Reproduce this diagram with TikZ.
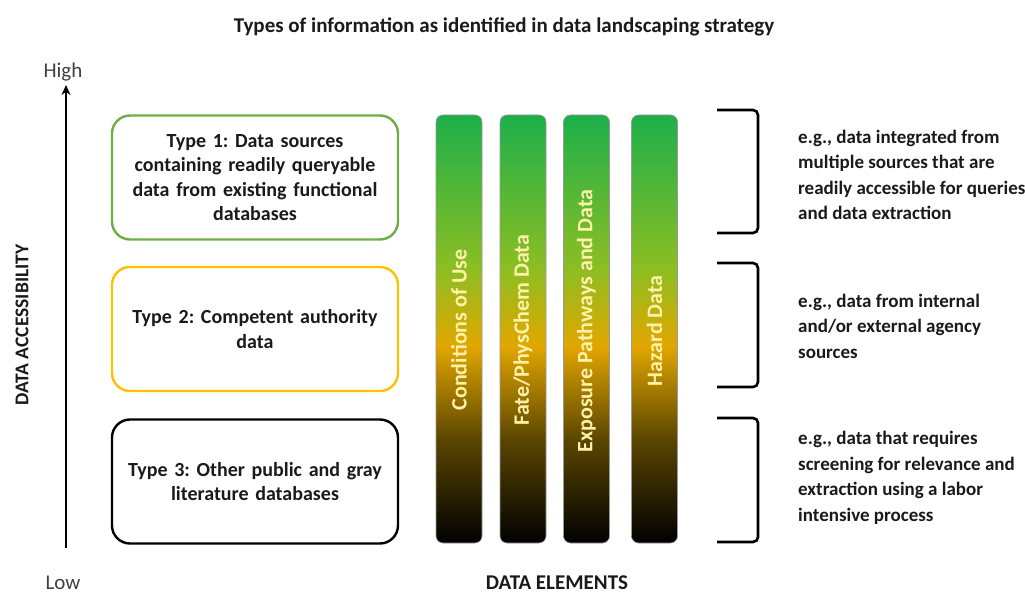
\documentclass[tikz,border=0pt]{standalone}
\usepackage{fontspec}
\setmainfont{Carlito}
\usetikzlibrary{arrows.meta}

\definecolor{typegreen}{HTML}{70AD47}
\definecolor{typegold}{HTML}{FFC000}
\definecolor{inkgray}{HTML}{1A1A1A}
\definecolor{barlabel}{HTML}{FFF2A8}
\definecolor{bartop}{HTML}{1CB04A}
\definecolor{barlime}{HTML}{8DBE22}
\definecolor{barmid}{HTML}{E2A600}
\definecolor{barolive}{HTML}{5A4500}

\pgfdeclareverticalshading{elementshade}{100bp}{color(0bp)=(black); color(25bp)=(black);
  color(37bp)=(barolive); color(48bp)=(barmid); color(57bp)=(barlime);
  color(75bp)=(bartop); color(100bp)=(bartop)}

\tikzstyle{typebox} = [draw, line width=2.4pt, rectangle, rounded corners=18pt,
  minimum width=286pt, minimum height=124pt, text width=270pt, align=center,
  font=\fontsize{20}{24.5}\selectfont\bfseries, text=inkgray]
\tikzstyle{element} = [rectangle, rounded corners=7pt, draw=black!40, line width=0.6pt,
  shading=elementshade, minimum width=46pt, minimum height=428pt, inner sep=0pt]
\tikzstyle{elementlabel} = [rotate=90, text=barlabel,
  font=\fontsize{22}{26}\selectfont\bfseries]
\tikzstyle{example} = [anchor=west, align=left, inner sep=0pt, text=inkgray,
  font=\fontsize{19}{25.5}\selectfont\bfseries]
\tikzstyle{heading} = [text=inkgray, font=\fontsize{21}{25}\selectfont\bfseries]
\tikzstyle{bracket} = [line width=2.6pt, rounded corners=5pt]

\begin{document}
\frenchspacing
\begin{tikzpicture}[x=1pt, y=-1pt]
        \useasboundingbox (0,0) rectangle (1025,596);

        \node [heading] (title) at (504, 27) {Types of information as identified in data landscaping strategy};

        % accessibility axis
        \node [text=black!75, font=\fontsize{21}{25}\selectfont] (high) at (63, 72) {High};
        \node [text=black!75, font=\fontsize{21}{25}\selectfont, inner sep=1pt] (low) at (63, 583) {Low};
        \coordinate (axislow)  at (66, 548);
        \coordinate (axishigh) at (66, 85);
        \draw [line width=2.6pt, -{Stealth[length=10pt, width=9pt]}] (axislow) -- (axishigh);
        \node [heading, font=\fontsize{19.5}{23}\selectfont\bfseries, rotate=90] (access) at (22, 325) {DATA ACCESSIBILITY};

        % information types
        \node [typebox, draw=typegreen] (type1) at (255, 177.5)
          {Type 1: Data sources\\ containing readily queryable\\ data from existing functional\\ databases};
        \node [typebox, draw=typegold]  (type2) at (255, 329)
          {Type 2: Competent authority\\ data};
        \node [typebox, draw=black]     (type3) at (255, 481.5)
          {Type 3: Other public and gray\\ literature databases};

        % data elements
        \node [element] (use)      at (459,   329) {};
        \node [element] (fate)     at (523,   329) {};
        \node [element] (exposure) at (586.5, 329) {};
        \node [element] (hazard)   at (654.5, 329) {};
        \node [elementlabel] at ([yshift=-1pt]use.center)      {Conditions of Use};
        \node [elementlabel] at ([yshift=-1pt]fate.center)     {Fate/PhysChem Data};
        \node [elementlabel] at ([yshift=8pt]exposure.center)  {Exposure Pathways and Data};
        \node [elementlabel] at ([yshift=-2pt]hazard.center)   {Hazard Data};
        \node [heading] (elements) at (557, 583) {DATA ELEMENTS};

        % brackets and examples
        \draw [bracket] (717,110) -- (758,110) -- (758,233) -- (717,233);
        \draw [bracket] (717,263) -- (758,263) -- (758,387) -- (717,387);
        \draw [bracket] (717,418) -- (758,418) -- (758,542) -- (717,542);

        \node [example] (ex1) at (798, 175)
          {e.g., data integrated from\\ multiple sources that are\\ readily accessible for queries\\ and data extraction};
        \node [example] (ex2) at (798, 326)
          {e.g., data from internal\\ and/or external agency\\ sources};
        \node [example] (ex3) at (798, 478)
          {e.g., data that requires\\ screening for relevance and\\ extraction using a labor\\ intensive process};
      \end{tikzpicture}
\end{document}
